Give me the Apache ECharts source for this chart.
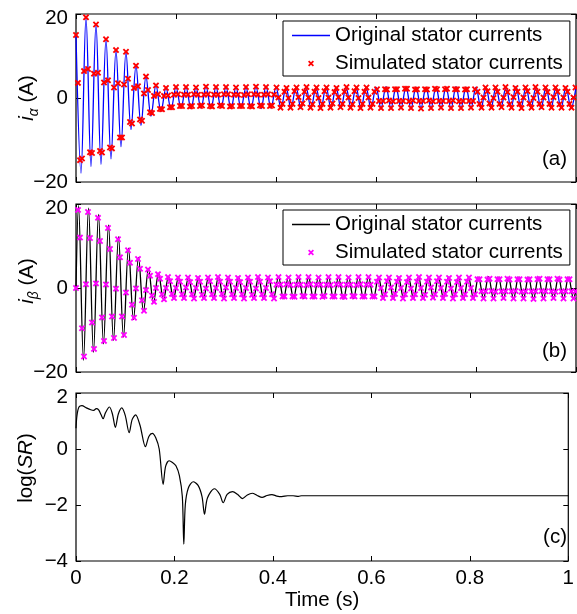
<!DOCTYPE html>
<html><head><meta charset="utf-8">
<script src="https://cdn.jsdelivr.net/npm/echarts@6/dist/echarts.min.js"></script>
<style>html,body{margin:0;padding:0;background:#fff}#c{width:577px;height:614px}</style>
</head><body><div id="c"></div>
<script>
// ================= DATA =================
const timeTicks = [0, 0.2, 0.4, 0.6, 0.8, 1];
const currentTicks = [-20, 0, 20];
const srTicks = [-4, -2, 0, 2];
const panelTags = ['(a)', '(b)', '(c)'];
const legendNames = ['Original stator currents', 'Simulated stator currents'];

// i_alpha original: successive extrema, one every half period (10 ms) from t = 0
const alphaLine = [
  15, -17.9, 19.2, -16.3, 17.5, -15.8, 14.0, -14.5, 11.4, -11.6,
  11.0, -7.5, 7.7, -6.5, 5.1, -4.3, 3.0, -3.2, 2.4, -2.7,
  2.6, -2.4, 2.6, -2.5, 2.5, -2.4, 2.7, -2.4, 2.6, -2.3,
  2.6, -2.5, 2.6, -2.4, 2.5, -2.4, 2.6, -2.5, 2.7, -2.4,
  2.6, -2.3, 2.5, -2.4, 2.6, -2.5, 2.6, -2.4, 2.5, -2.4,
  2.7, -2.4, 2.6, -2.4, 2.6, -2.3, 2.5, -2.5, 2.6, -2.4,
  2.6, -2.4, 2.7, -2.4, 2.5, -2.4, 2.6, -2.5, 2.6, -2.3,
  2.5, -2.4, 2.6, -2.4, 2.6, -2.5, 2.7, -2.4, 2.6, -2.4,
  2.6, -2.5, 2.5, -2.4, 2.6, -2.3, 2.6, -2.4, 2.7, -2.4,
  2.6, -2.4, 2.6, -2.5, 2.5, -2.4, 2.6, -2.4, 2.6, -2.4,
  2.6
];
// i_beta original: start value, extrema every 10 ms from t = 5 ms, end value
const betaStart = 0;
const betaLine = [
  19.6, -17.2, 19.0, -15.3, 17.5, -13.3, 15.0, -12.5, 12.2, -11.7,
  9.5, -7.5, 7.3, -5.6, 4.6, -3.5, 3.5, -2.8, 2.7, -2.5,
  2.6, -2.5, 2.6, -2.4, 2.5, -2.5, 2.6, -2.5, 2.7, -2.5,
  2.6, -2.4, 2.6, -2.5, 2.5, -2.5, 2.6, -2.6, 2.6, -2.5,
  2.6, -2.5, 2.7, -2.4, 2.6, -2.5, 2.5, -2.5, 2.6, -2.4,
  2.6, -2.5, 2.6, -2.6, 2.6, -2.5, 2.7, -2.5, 2.6, -2.4,
  2.5, -2.5, 2.6, -2.5, 2.6, -2.4, 2.6, -2.5, 2.7, -2.5,
  2.6, -2.5, 2.5, -2.4, 2.6, -2.5, 2.6, -2.6, 2.6, -2.5,
  2.6, -2.4, 2.7, -2.5, 2.6, -2.5, 2.5, -2.5, 2.6, -2.4,
  2.6, -2.5, 2.6, -2.5, 2.6, -2.4, 2.6, -2.5, 2.6, -2.5
];
const betaEnd = 0;

// simulated samples: 4 ms apart, with a per-0.2 s sampling phase shift
const simStep = 0.004;
const simShift = [0, 0, 0.001, 0.002, 0.003];
const alphaSim = [
  15, 3.6, -14.8, -14.4, 6.4,   19.2, 6.9, -12.9, -13.1, 5.8,
  17.5, 6.0, -12.6, -13.0, 3.7, 14.0, 4.2, -11.8, -12.0, 2.5,
  11.4, 3.5, -9.4, -9.4, 3.2,   11.0, 4.6, -5.7, -6.1, 2.4,
  7.7, 2.8, -5.1, -5.4, 1.1,    5.1, 1.9, -3.4, -3.6, 0.5,
  3.0, 0.9, -2.6, -2.7, 0.5,    2.4, 0.6, -2.2, -2.2, 0.8,
  2.6, 0.9, -1.9, -1.9, 0.8,  2.6, 0.8, -2.0, -1.9, 0.9,  2.5, 0.8, -1.9, -1.8, 0.8,
  2.7, 0.9, -1.9, -2.0, 0.8,  2.6, 0.8, -1.8, -1.9, 0.9,  2.6, 0.9, -2.0, -1.9, 0.8,
  2.5, 0.8, -1.9, -1.9, 0.7,  2.6, 0.9, -1.9, -2.0, 0.9,  2.7, 0.8, -1.8, -1.9, 0.8,
  2.6, 0.9, -1.9, -1.8, 0.8,
  2.5, 0.1, -2.3, -1.4, 1.5,  2.4, 0.0, -2.3, -1.4, 1.6,  2.5, 0.2, -2.2, -1.3, 1.5,
  2.6, 0.1, -2.3, -1.5, 1.5,  2.5, 0.0, -2.4, -1.4, 1.6,  2.5, 0.1, -2.3, -1.3, 1.4,
  2.4, 0.2, -2.2, -1.4, 1.5,  2.6, 0.1, -2.3, -1.5, 1.6,  2.5, 0.0, -2.4, -1.4, 1.5,
  2.5, 0.1, -2.3, -1.4, 1.5,
  2.1, -0.7, -2.4, -0.7, 2.1, 2.0, -0.6, -2.4, -0.8, 2.1, 2.1, -0.7, -2.3, -0.7, 2.2,
  2.2, -0.8, -2.4, -0.6, 2.0, 2.1, -0.7, -2.5, -0.7, 2.1, 2.0, -0.6, -2.4, -0.8, 2.2,
  2.1, -0.7, -2.3, -0.7, 2.1, 2.2, -0.7, -2.4, -0.6, 2.1, 2.1, -0.8, -2.4, -0.7, 2.0,
  2.1, -0.7, -2.3, -0.7, 2.1,
  1.5, -1.4, -2.3, 0.1, 2.5,  1.6, -1.3, -2.3, 0.0, 2.5,  1.5, -1.4, -2.2, 0.1, 2.6,
  1.4, -1.5, -2.3, 0.2, 2.4,  1.5, -1.4, -2.4, 0.1, 2.5,  1.6, -1.3, -2.3, 0.0, 2.6,
  1.5, -1.4, -2.2, 0.1, 2.5,  1.4, -1.4, -2.3, 0.2, 2.5,  1.5, -1.5, -2.3, 0.1, 2.4,
  1.5, -1.4, -2.3, 0.1, 2.5
];
const betaSim = [
  0, 18.6, 12.0, -9.6, -16.3,   0.9, 18.1, 11.9, -8.2, -14.5,
  1.1, 16.7, 11.2, -7.0, -12.6, 0.85, 14.3, 9.3, -6.8, -11.9,
  -0.15, 11.6, 7.3, -6.8, -11.2, -1.1, 9.0, 6.0, -4.0, -7.1,
  -0.1, 6.9, 4.6, -2.9, -5.4,   -0.5, 4.4, 2.9, -1.8, -3.3,
  0, 3.3, 2.2, -1.5, -2.7,      0, 2.6, 1.6, -1.4, -2.4,
  0, 2.5, 1.5, -1.5, -2.4,  0.1, 2.5, 1.4, -1.5, -2.5,  0, 2.4, 1.5, -1.6, -2.4,
  -0.1, 2.5, 1.6, -1.5, -2.4, 0, 2.6, 1.5, -1.4, -2.5,  0.1, 2.5, 1.5, -1.5, -2.4,
  0, 2.4, 1.4, -1.5, -2.5,  0, 2.5, 1.5, -1.6, -2.4,  -0.1, 2.6, 1.5, -1.5, -2.4,
  0, 2.5, 1.6, -1.5, -2.5,
  0.8, 2.6, 0.8, -2.0, -2.0,  0.9, 2.5, 0.7, -2.0, -2.1,  0.8, 2.6, 0.8, -1.9, -2.0,
  0.7, 2.6, 0.9, -2.0, -2.0,  0.8, 2.5, 0.8, -2.1, -1.9,  0.8, 2.6, 0.7, -2.0, -2.0,
  0.9, 2.6, 0.8, -2.0, -2.1,  0.8, 2.5, 0.8, -1.9, -2.0,  0.7, 2.6, 0.9, -2.0, -2.0,
  0.8, 2.6, 0.8, -2.0, -2.0,
  1.5, 2.5, 0, -2.4, -1.5,  1.6, 2.5, 0.1, -2.4, -1.4,  1.5, 2.4, 0, -2.5, -1.5,
  1.4, 2.5, -0.1, -2.4, -1.5, 1.5, 2.6, 0, -2.4, -1.6,  1.5, 2.5, 0.1, -2.3, -1.5,
  1.6, 2.5, 0, -2.4, -1.4,  1.5, 2.4, -0.1, -2.5, -1.5, 1.4, 2.5, 0, -2.4, -1.5,
  1.5, 2.5, 0, -2.4, -1.5,
  2.1, 2.1, -0.8, -2.5, -0.8, 2.0, 2.2, -0.7, -2.5, -0.9, 2.1, 2.1, -0.8, -2.4, -0.8,
  2.2, 2.0, -0.8, -2.5, -0.7, 2.1, 2.1, -0.9, -2.5, -0.8, 2.0, 2.1, -0.8, -2.6, -0.8,
  2.1, 2.2, -0.7, -2.5, -0.8, 2.1, 2.1, -0.8, -2.4, -0.9, 2.2, 2.0, -0.8, -2.5, -0.8,
  2.1, 2.1, -0.8, -2.5, -0.8
];

// log(SR) curve
const srTimes = [0, 0.002, 0.006, 0.012, 0.021, 0.03, 0.036, 0.041, 0.046, 0.051,
  0.055, 0.06, 0.068, 0.074, 0.08, 0.086, 0.093, 0.1, 0.108, 0.114,
  0.121, 0.13, 0.141, 0.148, 0.155, 0.162, 0.169, 0.177, 0.182, 0.189,
  0.196, 0.203, 0.21, 0.216, 0.219, 0.222, 0.228, 0.238, 0.248, 0.256,
  0.261, 0.267, 0.281, 0.292, 0.299, 0.307, 0.318, 0.328, 0.338, 0.348,
  0.358, 0.368, 0.378, 0.388, 0.398, 0.408, 0.418, 0.43, 0.441, 0.452,
  0.458, 0.47, 0.6, 0.8, 1.0];
const srValues = [0.74, 1.2, 1.5, 1.55, 1.47, 1.4, 1.38, 1.44, 1.4, 1.22,
  1.08, 1.3, 1.5, 1.25, 0.77, 1.25, 1.47, 1.2, 0.58, 1.05,
  1.22, 0.85, 0.08, 0.45, 0.56, 0.4, 0.0, -1.26, -0.62, -0.42,
  -0.48, -0.6, -0.95, -1.7, -3.4, -2.0, -1.4, -1.17, -1.3, -1.7,
  -2.33, -1.75, -1.42, -1.62, -1.92, -1.62, -1.52, -1.62, -1.77, -1.64,
  -1.58, -1.66, -1.73, -1.66, -1.63, -1.68, -1.7, -1.67, -1.67, -1.69,
  -1.67, -1.67, -1.67, -1.67, -1.67];

// ================= CHART =================
const FONT = '"Liberation Sans", Arial, Helvetica, sans-serif';
const FS = 20.5;
const halfPeriod = 0.01, betaT0 = 0.005;
const alphaLineData = alphaLine.map((v, j) => [j * halfPeriod, v]);
const betaLineData = [[0, betaStart]].concat(betaLine.map((v, m) => [betaT0 + m * halfPeriod, v]), [[1, betaEnd]]);
const simTime = k => k * simStep + simShift[Math.floor(k / 50)];
const alphaSimData = alphaSim.map((v, k) => [simTime(k), v]);
const betaSimData = betaSim.map((v, k) => [simTime(k), v]);
const srData = srTimes.map((t, i) => [t, srValues[i]]);

const XMARK = 'path://M0,2L2,0L5,3L8,0L10,2L7,5L10,8L8,10L5,7L2,10L0,8L3,5Z';
const LINEICON = 'path://M0,0L38,0L38,1.3L0,1.3Z';
const tops = [14, 204, 393];
const grids = tops.map(t => ({left: 76, width: 500, top: t, height: 168, show: true,
  borderColor: '#000', borderWidth: 1.2, backgroundColor: '#fff'}));

const tick = {show: true, inside: true, length: 5, lineStyle: {color: '#000', width: 1}};
const noLine = {show: false, onZero: false};
const fmtNum = v => String(v).replace('-', '\u2212');
const xAxes = [], yAxes = [];
const yRanges = [[-20, 20, 20], [-20, 20, 20], [-4, 2, 2]];
for (let g = 0; g < 3; g++) {
  xAxes.push({type: 'value', gridIndex: g, min: 0, max: 1, interval: 0.2, position: 'bottom',
    axisLine: noLine, axisTick: tick, splitLine: {show: false},
    axisLabel: {show: g === 2, fontSize: FS, fontFamily: FONT, color: '#000', margin: 7,
      formatter: v => String(+v.toFixed(1))},
    name: g === 2 ? 'Time (s)' : '', nameLocation: 'middle', nameGap: 26,
    nameTextStyle: {fontSize: FS, fontFamily: FONT, color: '#000'}});
  xAxes.push({type: 'value', gridIndex: g, min: 0, max: 1, interval: 0.2, position: 'top',
    axisLine: noLine, axisTick: tick, splitLine: {show: false}, axisLabel: {show: false}});
  const [mn, mx, iv] = yRanges[g];
  yAxes.push({type: 'value', gridIndex: g, min: mn, max: mx, interval: iv, position: 'left',
    axisLine: noLine, axisTick: tick, splitLine: {show: false},
    axisLabel: {fontSize: FS, fontFamily: FONT, color: '#000', margin: 8,
      formatter: v => v === mx ? '{t|' + fmtNum(v) + '}' : fmtNum(v),
      rich: {t: {fontSize: FS, fontFamily: FONT, color: '#000', padding: [8, 0, 0, 0]}}}});
  yAxes.push({type: 'value', gridIndex: g, min: mn, max: mx, interval: iv, position: 'right',
    axisLine: noLine, axisTick: tick, splitLine: {show: false}, axisLabel: {show: false}});
}

const series = [
  {name: legendNames[0], type: 'line', xAxisIndex: 0, yAxisIndex: 0, data: alphaLineData,
    smooth: 0.36, symbol: 'none', lineStyle: {color: '#0000ff', width: 1.3}, itemStyle: {color: '#0000ff'}, z: 2},
  {name: legendNames[1], type: 'scatter', xAxisIndex: 0, yAxisIndex: 0, data: alphaSimData,
    symbol: XMARK, symbolSize: 6.5, itemStyle: {color: '#ff0000', opacity: 1}, z: 3},
  {name: legendNames[0] + '#b', type: 'line', xAxisIndex: 2, yAxisIndex: 2, data: betaLineData,
    smooth: 0.36, symbol: 'none', lineStyle: {color: '#000', width: 1.3}, itemStyle: {color: '#000'}, z: 2},
  {name: legendNames[1] + '#b', type: 'scatter', xAxisIndex: 2, yAxisIndex: 2, data: betaSimData,
    symbol: XMARK, symbolSize: 6.5, itemStyle: {color: '#ff00ff', opacity: 1}, z: 3},
  {name: 'logSR', type: 'line', xAxisIndex: 4, yAxisIndex: 4, data: srData,
    smooth: 0.3, symbol: 'none', lineStyle: {color: '#000', width: 1.2}, z: 2}
];

const legendBase = top => ({left: 283, top: top, orient: 'vertical', padding: [4, 7, 2, 9],
  itemGap: 7, itemWidth: 38, itemHeight: 6, borderColor: '#000', borderWidth: 1,
  backgroundColor: '#fff', selectedMode: false,
  textStyle: {fontSize: FS, fontFamily: FONT, color: '#000', lineHeight: 20},
  formatter: n => n.replace('#b', '')});
const legends = [
  Object.assign(legendBase(21), {data: [{name: legendNames[0], icon: LINEICON}, legendNames[1]]}),
  Object.assign(legendBase(210), {data: [{name: legendNames[0] + '#b', icon: LINEICON}, legendNames[1] + '#b']})
];

const yLab = (x, y, text) => ({type: 'text', x: x, y: y, rotation: Math.PI / 2, z: 10,
  style: {text: text, fontSize: FS, fontFamily: FONT, fill: '#000', align: 'center',
    verticalAlign: 'middle', lineHeight: 28,
    rich: {i: {fontSize: FS, fontFamily: FONT, fontStyle: 'italic', lineHeight: 28},
      s: {fontSize: 14, fontFamily: FONT, fontStyle: 'italic', verticalAlign: 'bottom', lineHeight: 28},
      n: {fontSize: FS, fontFamily: FONT, lineHeight: 28}}}});
const tagY = [160, 352, 538];
const graphic = [
  yLab(27, 98, '{i|i}{s|\u03b1} (A)'),
  yLab(27, 281, '{i|i}{s|\u03b2} (A)'),
  yLab(26, 468, 'log({i|SR})')
].concat(panelTags.map((t, i) => ({type: 'text', right: 10, top: tagY[i] - 11, z: 10,
  style: {text: t, fontSize: FS, fontFamily: FONT, fill: '#000'}})));

const chart = echarts.init(document.getElementById('c'), null, {renderer: 'canvas'});
chart.setOption({animation: false, backgroundColor: '#fff', grid: grids, xAxis: xAxes, yAxis: yAxes,
  series: series, legend: legends, graphic: graphic});
</script></body></html>
